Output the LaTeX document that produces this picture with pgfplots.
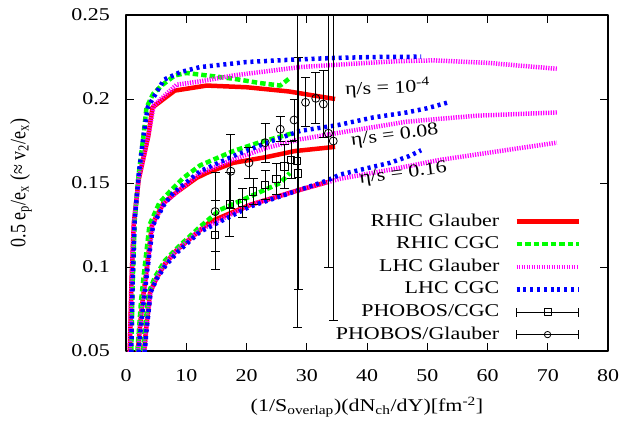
\documentclass[border=0pt]{standalone}
\usepackage{fontspec}
\setmainfont{Liberation Serif}
\usepackage{graphicx}
\usepackage{pgfplots}
\pgfplotsset{compat=1.18}
\definecolor{gpred}{RGB}{255,0,0}
\definecolor{gpgreen}{RGB}{0,255,0}
\definecolor{gpmag}{RGB}{255,0,255}
\definecolor{gpblue}{RGB}{0,0,255}
\newcommand\hs[1]{\scalebox{1.22}[1]{#1}}
\newcommand\vs[1]{\scalebox{1}[1.22]{#1}}
\pgfplotstableread{
x y e
14.8 0.119 0.0205
17.2 0.1375 0.019
19.3 0.138 0.0085
21.1 0.145 0.008
23.1 0.149 0.0085
24.95 0.1524 0.009
26.3 0.160 0.013
27.4 0.1637 0.011
28.4 0.163 0.099
28.55 0.1558 0.069
}\phoboscgc
\pgfplotstableread{
x y e
14.8 0.133 0.0235
17.4 0.157 0.022
20.4 0.162 0.009
23.1 0.174 0.0115
25.6 0.182 0.0075
27.9 0.1875 0.012
29.8 0.198 0.0146
31.5 0.2004 0.0152
32.75 0.197 0.02
33.6 0.1796 0.0796
34.4 0.175 0.1065
}\phobosgl
\begin{document}
\fontsize{18bp}{21bp}\selectfont
\begin{tikzpicture}
\begin{axis}[
  name=ax,
  scale only axis, width=482bp, height=336bp,
  xmin=0, xmax=80, ymin=0.05, ymax=0.25,
  xtick={0,10,20,30,40,50,60,70,80},
  xticklabels={\hs{0},\hs{10},\hs{20},\hs{30},\hs{40},\hs{50},\hs{60},\hs{70},\hs{80}},
  ytick={0.05,0.1,0.15,0.2,0.25},
  yticklabels={\hs{0.05},\hs{0.1},\hs{0.15},\hs{0.2},\hs{0.25}},
  tick align=inside,
  major tick length=8bp,
  tick style={black, line width=1bp},
  axis line style={line width=1.2bp},
  xticklabel style={yshift=-12bp},
  yticklabel style={xshift=-10bp},
  xlabel={\hs{(1/S\textsubscript{overlap})(dN\textsubscript{ch}/dY)[fm\textsuperscript{-2}]}},
  ylabel={\vs{0.5 e\textsubscript{p}/e\textsubscript{x} (≈ v\textsubscript{2}/e\textsubscript{x})}},
  every axis x label/.style={at={(axis description cs:0.5,-0.1815)}, anchor=base},
  every axis y label/.style={at={(axis description cs:-0.2178,0.5)}, anchor=center, rotate=90},
  legend style={at={(axis description cs:0.944,0.411)}, anchor=north east, draw=none, fill=none,
    inner sep=0pt, row sep=5.6bp, column sep=15bp,
    nodes={inner sep=0pt, text height=13bp, text depth=4bp}},
  legend cell align=right,
  legend plot pos=right,
  legend image code/.code={\draw[#1] (0bp,0bp) -- (62bp,0bp);},
  line join=round,
]
% RHIC Glauber
\addplot[gpred, line width=4.5bp] coordinates {(0.6,0.045)(0.9,0.09)(1.3,0.126)(2.1,0.152)(3.7,0.178)(4.4,0.195)(8.1,0.205)(13.4,0.208)(20,0.207)(27,0.2045)(34.7,0.2)};
\addlegendentry{\hs{RHIC Glauber}}
\addplot[gpred, line width=4.5bp, forget plot] coordinates {(1.85,0.045)(2.2,0.06)(2.6,0.075)(3.4,0.098)(4.3,0.125)(6.2,0.138)(8.4,0.1445)(11.7,0.153)(13.4,0.156)(17.8,0.162)(23.4,0.1655)(28,0.169)(34.7,0.1715)};
\addplot[gpred, line width=4.5bp, forget plot] coordinates {(2.9,0.045)(3.3,0.062)(4.0,0.085)(5.0,0.093)(6.5,0.102)(8.4,0.11)(12.3,0.122)(14,0.127)(20.6,0.137)(28.9,0.146)(33.4,0.1505)};
% RHIC CGC
\addplot[gpgreen, line width=4.5bp, dash pattern=on 5.5bp off 3bp] coordinates {(0.85,0.045)(1.1,0.09)(1.45,0.128)(2.1,0.155)(2.9,0.178)(3.4,0.195)(4.5,0.203)(5.9,0.208)(8.1,0.214)(10,0.2155)(12.3,0.2145)(18,0.212)(22.2,0.2095)(25.6,0.208)(27.2,0.2125)};
\addlegendentry{\hs{RHIC CGC}}
\addplot[gpgreen, line width=4.5bp, dash pattern=on 5.5bp off 3bp, forget plot] coordinates {(1.8,0.045)(2.1,0.06)(2.5,0.08)(3.1,0.1)(3.9,0.125)(5.5,0.138)(7.3,0.145)(9.5,0.153)(12.3,0.1605)(17.8,0.169)(22,0.174)(27.5,0.1795)};
\addplot[gpgreen, line width=4.5bp, dash pattern=on 5.5bp off 3bp, forget plot] coordinates {(2.7,0.045)(3.1,0.062)(3.8,0.085)(4.8,0.094)(6.5,0.104)(9,0.113)(12.3,0.124)(15.6,0.134)(20.6,0.142)(25.6,0.15)(27.2,0.156)};
% LHC Glauber
\addplot[gpmag, line width=4.5bp, dash pattern=on 1.2bp off 1.3bp] coordinates {(0.6,0.045)(0.9,0.09)(1.3,0.126)(2.1,0.152)(3.7,0.178)(4.6,0.196)(8.4,0.2085)(12.3,0.2105)(17.8,0.214)(28.9,0.219)(37.7,0.221)(45,0.2225)(51,0.223)(60,0.2215)(71.5,0.218)};
\addlegendentry{\hs{LHC Glauber}}
\addplot[gpmag, line width=4.5bp, dash pattern=on 1.2bp off 1.3bp, forget plot] coordinates {(1.9,0.045)(2.25,0.06)(2.65,0.075)(3.5,0.098)(4.4,0.125)(6.3,0.138)(8.4,0.1445)(12.3,0.156)(17.8,0.164)(23.4,0.171)(28.9,0.176)(35.5,0.18)(46.6,0.1865)(58,0.19)(71.5,0.192)};
\addplot[gpmag, line width=4.5bp, dash pattern=on 1.2bp off 1.3bp, forget plot] coordinates {(2.95,0.045)(3.35,0.062)(4.05,0.085)(5.05,0.093)(6.5,0.102)(8.5,0.11)(12.3,0.122)(20.6,0.137)(28.9,0.146)(35.5,0.1525)(44,0.158)(52,0.1637)(62,0.169)(71.5,0.174)};
% LHC CGC
\addplot[gpblue, line width=4.5bp, dash pattern=on 3bp off 3.8bp] coordinates {(0.85,0.045)(1.1,0.09)(1.45,0.128)(2.1,0.155)(2.9,0.178)(3.6,0.195)(6.3,0.2115)(9,0.216)(12.3,0.219)(20,0.222)(28,0.2235)(35,0.2245)(42,0.225)(49,0.2252)};
\addlegendentry{\hs{LHC CGC}}
\addplot[gpblue, line width=4.5bp, dash pattern=on 3bp off 3.8bp, forget plot] coordinates {(2.0,0.045)(2.35,0.06)(2.8,0.075)(3.6,0.1)(4.5,0.125)(6.3,0.137)(7.8,0.144)(12.3,0.157)(17.8,0.166)(23.4,0.174)(28.9,0.181)(35.2,0.1845)(41,0.189)(46.6,0.192)(50,0.1945)(53.5,0.198)};
\addplot[gpblue, line width=4.5bp, dash pattern=on 3bp off 3.8bp, forget plot] coordinates {(3.0,0.045)(3.4,0.062)(4.1,0.085)(5.1,0.093)(6.6,0.101)(8.6,0.109)(12.3,0.121)(20.6,0.136)(28.9,0.146)(33.4,0.1515)(35.5,0.155)(43.8,0.162)(47,0.166)(49,0.1695)};
% PHOBOS
\addplot[black, only marks, mark=square, mark size=3.7bp, mark options={line width=0.8bp, solid},
  legend image code/.code={
    \draw[black, line width=0.8bp] (0bp,0bp) -- (62bp,0bp) (0bp,-4.5bp) -- (0bp,4.5bp) (62bp,-4.5bp) -- (62bp,4.5bp);
    \draw[black, line width=0.8bp] (27.5bp,-3.5bp) rectangle (34.5bp,3.5bp);},
  error bars/.cd, y dir=both, y explicit, error bar style={line width=0.8bp},
  error mark options={rotate=90, mark size=4.5bp, line width=0.8bp}]
  table[x=x, y=y, y error=e] {\phoboscgc};
\addlegendentry{\hs{PHOBOS/CGC}}
\addplot[black, only marks, mark=o, mark size=4bp, mark options={line width=0.8bp, solid},
  legend image code/.code={
    \draw[black, line width=0.8bp] (0bp,0bp) -- (62bp,0bp) (0bp,-4.5bp) -- (0bp,4.5bp) (62bp,-4.5bp) -- (62bp,4.5bp);
    \draw[black, line width=0.8bp] (31bp,0bp) circle[radius=3.2bp];},
  error bars/.cd, y dir=both, y explicit, error bar style={line width=0.8bp},
  error mark options={rotate=90, mark size=4.5bp, line width=0.8bp}]
  table[x=x, y=y, y error=e] {\phobosgl};
\addlegendentry{\hs{PHOBOS/Glauber}}
\node[rotate=2] at (axis cs:43.4,0.2065) {\hs{η/s = 10\textsuperscript{-4}}};
\node[rotate=7] at (axis cs:44.6,0.178) {\hs{η/s = 0.08}};
\node[rotate=7] at (axis cs:46.0,0.1554) {\hs{η/s = 0.16}};
\end{axis}
\pgfresetboundingbox
\useasboundingbox ([xshift=-126bp,yshift=-74bp]ax.south west) rectangle ([xshift=16bp,yshift=15bp]ax.north east);
\end{tikzpicture}
\end{document}
